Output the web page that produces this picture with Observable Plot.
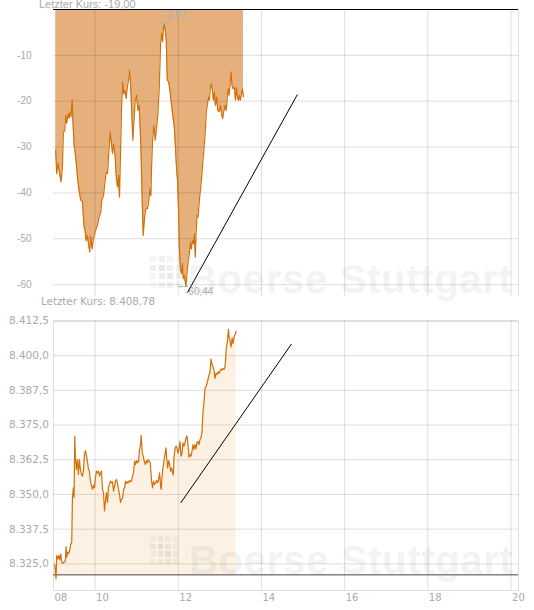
<!DOCTYPE html>
<html><head><meta charset="utf-8">
<script src="https://cdn.jsdelivr.net/npm/d3@7"></script>
<script src="https://cdn.jsdelivr.net/npm/@observablehq/plot@0.6"></script>
<style>
body{margin:0;background:#fff;width:534px;height:610px;position:relative;overflow:hidden}
#c1,#c2{position:absolute;left:0}
#c1{top:0}
#c2{top:300px}
.title{position:absolute;color:#aaa;white-space:nowrap;line-height:1}
.wm{position:absolute;font-family:"Liberation Sans",Arial,sans-serif;font-weight:bold;font-size:40px;line-height:40px;letter-spacing:0.7px;color:rgba(128,128,128,0.115);pointer-events:none;white-space:nowrap}
.logo{position:absolute;display:grid;pointer-events:none}
</style></head><body>
<div id="c1"></div>
<div id="c2"></div>
<div class="title" style="left:39px;top:-2px;font:11px 'Liberation Sans',Arial,sans-serif">Letzter Kurs: -19,00</div>
<div class="title" style="left:41px;top:296px;font:10.3px 'DejaVu Sans',Verdana,sans-serif;line-height:1">Letzter Kurs: 8.408,78</div>
<div class="wm" style="left:188px;top:259px">Boerse Stuttgart</div>
<div class="wm" style="left:189px;top:540px">Boerse Stuttgart</div>
<div class="logo" id="logo1" style="left:150px;top:256px;grid-template-columns:repeat(4,6px);gap:2.5px"></div>
<div class="logo" id="logo2" style="left:150px;top:536px;grid-template-columns:repeat(4,5.5px);gap:2px"></div>
<script>
// ---------- Top chart data ----------
const topTimes = [9.053,9.077,9.109,9.149,9.181,9.214,9.238,9.270,9.294,9.318,9.350,9.374,9.398,9.422,9.447,9.471,9.495,9.535,9.575,9.615,9.655,9.696,9.736,9.760,9.784,9.816,9.840,9.872,9.896,9.928,9.961,9.993,10.025,10.057,10.097,10.137,10.161,10.202,10.234,10.266,10.298,10.322,10.362,10.394,10.419,10.443,10.483,10.507,10.539,10.563,10.587,10.611,10.635,10.660,10.684,10.716,10.748,10.772,10.804,10.828,10.852,10.876,10.908,10.933,10.965,10.997,11.029,11.061,11.101,11.125,11.157,11.190,11.222,11.262,11.294,11.318,11.342,
11.358,11.382,11.414,11.447,11.479,11.511,11.543,11.575,11.599,11.623,11.647,11.663,11.687,11.711,11.736,11.768,11.800,11.824,11.864,11.904,11.928,11.961,11.985,12.009,12.025,12.049,12.073,12.097,12.121,12.145,12.169,12.186,12.210,12.242,12.266,12.290,12.314,12.338,12.362,12.386,12.410,12.427,12.451,12.475,12.507,12.539,12.563,12.587,12.619,12.651,12.675,12.699,12.724,12.748,12.772,12.796,12.820,12.844,12.868,12.892,12.924,12.949,12.981,13.013,13.045,13.069,13.093,13.125,13.149,13.173,13.197,13.222,13.246,13.270,13.294,13.318,13.350,13.374,13.398,13.422,13.446,13.470,13.494,13.518,13.543,13.567];
const topValues = [-30.7,-35.8,-33.5,-35.8,-37.6,-34.4,-26.7,-26.5,-23.1,-24.8,-22.7,-23.7,-22.4,-23.4,-19.6,-24.9,-29.6,-32.2,-36.5,-39.5,-41.6,-41.9,-47.5,-48.2,-50.4,-49.3,-51.1,-52.9,-49.5,-52.2,-50.0,-48.9,-47.8,-47.1,-45.3,-44.2,-41.6,-40.6,-37.9,-35.5,-35.8,-32.2,-26.7,-29.3,-31.4,-29.3,-32.0,-36.2,-38.7,-36.2,-40.9,-31.4,-22.0,-15.8,-18.4,-17.6,-19.4,-17.2,-15.4,-13.3,-15.8,-21.3,-28.5,-24.6,-19.8,-18.7,-22.0,-20.9,-29.6,-38.7,-49.3,-45.3,-43.4,-43.4,-41.6,-39.1,-40.6,
-34.4,-28.5,-25.3,-28.5,-25.6,-22.7,-16.9,-7.4,-5.2,-7.0,-3.8,-3.03,-4.5,-6.7,-15.4,-15.8,-17.6,-19.8,-22.7,-25.6,-29.3,-35.1,-37.6,-44.5,-51.8,-56.2,-57.6,-55.4,-58.7,-58.0,-59.5,-60.44,-57.6,-54.7,-53.3,-50.7,-52.2,-50.4,-51.1,-48.9,-54.0,-48.9,-44.9,-45.3,-41.6,-38.7,-36.5,-33.6,-30.3,-26.4,-22.0,-20.9,-19.1,-19.8,-16.9,-16.2,-17.6,-19.8,-18.0,-20.9,-19.1,-22.0,-22.3,-20.9,-23.0,-23.8,-22.3,-20.9,-22.0,-19.8,-17.3,-18.7,-16.2,-13.6,-16.7,-17.3,-16.9,-19.8,-17.1,-19.1,-19.8,-18.7,-19.8,-18.4,-17.3,-19.0];
const topYTicks = [-60,-50,-40,-30,-20,-10];
const topYTickLabels = ["-60","-50","-40","-30","-20","-10"];
const topDiagTimes = [12.23, 14.86];
const topDiagValues = [-61.6, -18.6];

// ---------- Bottom chart data ----------
const bottomTimes = [9.029,9.045,9.061,9.077,9.101,9.125,9.149,9.173,9.198,9.222,9.254,9.286,9.302,9.318,9.342,9.366,9.390,9.414,9.439,9.455,9.479,9.495,9.511,9.527,9.551,9.575,9.599,9.623,9.647,9.672,9.696,9.720,9.744,9.768,9.792,9.816,9.840,9.864,9.888,9.913,9.937,9.961,9.985,10.009,10.033,10.057,10.081,10.105,10.129,10.153,10.178,10.202,10.226,10.250,10.274,10.298,10.322,10.346,10.370,10.394,10.419,10.443,10.467,10.491,10.515,10.539,10.563,10.587,10.611,10.635,10.660,10.684,10.708,10.732,10.756,10.780,10.804,10.828,10.852,10.876,10.900,10.925,10.949,10.973,10.997,11.021,11.045,11.069,11.093,11.109,11.133,11.157,11.181,11.206,11.230,11.254,11.278,11.302,11.326,
11.358,11.382,11.406,11.431,11.455,11.479,11.503,11.527,11.551,11.575,11.591,11.607,11.631,11.655,11.680,11.704,11.720,11.744,11.768,11.792,11.816,11.840,11.864,11.880,11.896,11.920,11.945,11.969,11.993,12.017,12.041,12.065,12.089,12.113,12.137,12.161,12.186,12.210,12.234,12.258,12.282,12.306,12.330,12.354,12.378,12.402,12.427,12.451,12.475,12.499,12.523,12.547,12.571,12.595,12.619,12.643,12.667,12.692,12.716,12.740,12.764,12.788,12.812,12.836,12.860,12.884,12.908,12.933,12.957,12.981,13.005,13.029,13.053,13.077,13.101,13.125,13.141,13.157,13.181,13.206,13.222,13.246,13.270,13.294,13.318,13.342,13.366,13.390];
const bottomValues = [8324.7,8322.6,8319.6,8328.0,8326.8,8328.0,8326.4,8328.6,8325.6,8325.2,8325.6,8326.2,8331.2,8327.4,8329.2,8328.8,8329.8,8332.1,8332.8,8348.9,8352.4,8348.9,8371.0,8363.2,8359.0,8362.6,8357.2,8362.6,8359.0,8357.2,8356.6,8358.4,8364.4,8365.8,8364.1,8362.0,8359.0,8358.4,8354.8,8353.0,8351.8,8353.4,8352.4,8356.0,8358.4,8357.8,8358.4,8356.6,8357.8,8358.4,8351.8,8350.7,8344.1,8347.7,8350.7,8347.1,8352.7,8353.6,8354.8,8354.2,8354.6,8351.2,8353.0,8354.8,8355.4,8353.9,8351.8,8350.1,8347.1,8348.3,8348.6,8351.8,8352.4,8354.8,8353.9,8354.6,8354.2,8355.1,8354.6,8354.8,8356.6,8357.8,8362.0,8360.8,8362.2,8361.4,8362.0,8366.2,8368.0,8371.3,8365.0,8363.8,8362.0,8360.8,8362.2,8361.4,8362.6,8362.0,8361.4,
8354.8,8352.4,8354.8,8353.6,8354.2,8355.1,8354.2,8355.4,8357.8,8353.0,8351.8,8356.0,8359.6,8362.0,8364.4,8366.8,8363.2,8359.6,8362.2,8360.8,8358.4,8359.6,8357.8,8357.0,8363.2,8366.2,8367.4,8366.8,8364.9,8366.2,8369.1,8363.8,8364.6,8368.6,8367.4,8368.6,8370.4,8371.0,8368.0,8363.4,8364.4,8363.8,8365.6,8368.0,8366.2,8368.0,8366.5,8368.9,8369.1,8368.0,8369.8,8370.4,8372.7,8379.9,8383.5,8388.3,8388.9,8390.0,8391.6,8393.0,8394.2,8398.8,8396.9,8396.0,8394.8,8391.8,8393.6,8393.3,8394.2,8393.6,8394.5,8395.2,8394.8,8395.4,8395.1,8396.0,8399.6,8403.2,8405.0,8409.5,8406.8,8405.2,8403.2,8406.4,8404.4,8406.8,8407.6,8408.78];
const bottomPrevClose = 8321.03;
const bottomYTicks = [8325, 8337.5, 8350, 8362.5, 8375, 8387.5, 8400, 8412.5];
const bottomYTickLabels = ["8.325,0","8.337,5","8.350,0","8.362,5","8.375,0","8.387,5","8.400,0","8.412,5"];
const bottomDiagTimes = [12.065, 14.716];
const bottomDiagValues = [8347.1, 8404.1];

// ---------- Shared x axis ----------
const xGridTicks = [10, 12, 14, 16, 18, 20];
const xLabelTicks = [9, 10, 12, 14, 16, 18, 20];
const xTickLabels = ["08","10","12","14","16","18","20"];
const xDomain = [9, 20.18];

const lineColor = "#d2700a";
const gridStyle = {stroke: "#000", strokeOpacity: 0.125};
const fmt = v => v.toFixed(2).replace(".", ",");

// ---------- Top chart ----------
const topData = topTimes.map((t, i) => ({t, v: topValues[i]}));
const topMax = topData.reduce((a, b) => (b.v > a.v ? b : a));
const topMin = topData.reduce((a, b) => (b.v < a.v ? b : a));
const topDiag = topDiagTimes.map((t, i) => ({t, v: topDiagValues[i]}));

const chart1 = Plot.plot({
  width: 534, height: 300,
  marginTop: 9, marginBottom: 4, marginLeft: 53, marginRight: 16,
  style: {background: "transparent", fontFamily: "'Liberation Sans', Arial, sans-serif", fontSize: "10px", overflow: "visible"},
  x: {domain: xDomain, axis: null},
  y: {domain: [-62.6, 0], axis: null},
  marks: [
    Plot.areaY(topData, {x: "t", y1: 0, y2: "v", fill: "#e6b07d"}),
    Plot.ruleY(topYTicks, gridStyle),
    Plot.ruleX(xGridTicks, gridStyle),
    Plot.ruleX([xDomain[1]], gridStyle),
    Plot.lineY(topData, {x: "t", y: "v", stroke: lineColor, strokeWidth: 1.2}),
    Plot.ruleY([0], {stroke: "#000", strokeWidth: 1}),
    Plot.text(topYTicks, {y: d => d, text: d => topYTickLabels[topYTicks.indexOf(d)], frameAnchor: "left", textAnchor: "end", dx: -22, fill: "#aaa", fontSize: 10}),
    Plot.ruleY([topMax], {y: "v", x1: d => d.t - 0.13, x2: d => d.t + 0.13, stroke: "#a9b4be"}),
    Plot.text([topMax], {x: "t", y: "v", text: d => fmt(d.v), textAnchor: "start", lineAnchor: "bottom", dy: -5, dx: -1, fill: "#aab3bc", fontSize: 10}),
    Plot.ruleY([topMin], {y: "v", x1: d => d.t - 0.16, x2: d => d.t + 0.06, stroke: "#a9b4be"}),
    Plot.text([topMin], {x: "t", y: "v", text: d => fmt(d.v), textAnchor: "start", lineAnchor: "top", dy: 1, dx: -1, fill: "#aab3bc", fontSize: 10}),
    Plot.line(topDiag, {x: "t", y: "v", stroke: "#000", strokeWidth: 1})
  ]
});
document.getElementById("c1").append(chart1);

// ---------- Bottom chart ----------
const bottomData = bottomTimes.map((t, i) => ({t, v: bottomValues[i]}));
const bottomDiag = bottomDiagTimes.map((t, i) => ({t, v: bottomDiagValues[i]}));

const chart2 = Plot.plot({
  width: 534, height: 310,
  marginTop: 20.5, marginBottom: 20, marginLeft: 53, marginRight: 16,
  style: {background: "transparent", fontFamily: "'DejaVu Sans', Verdana, sans-serif", fontSize: "10px", overflow: "visible"},
  x: {domain: xDomain, axis: null},
  y: {domain: [8315.4, 8412.5], axis: null},
  marks: [
    Plot.areaY(bottomData, {x: "t", y1: bottomPrevClose, y2: "v", fill: "#fcf1e3"}),
    Plot.ruleY(bottomYTicks, gridStyle),
    Plot.ruleX(xGridTicks, gridStyle),
    Plot.frame(gridStyle),
    Plot.ruleY([bottomPrevClose], {stroke: "#444", strokeWidth: 1}),
    Plot.lineY(bottomData, {x: "t", y: "v", stroke: lineColor, strokeWidth: 1.2}),
    Plot.text(bottomYTicks, {y: d => d, text: d => bottomYTickLabels[bottomYTicks.indexOf(d)], frameAnchor: "left", textAnchor: "end", dx: -4.5, fill: "#aaa", fontSize: 10.5}),
    Plot.text(xLabelTicks, {x: d => d, text: d => xTickLabels[xLabelTicks.indexOf(d)], frameAnchor: "bottom", textAnchor: "start", lineAnchor: "top", dy: 3.5, dx: 1, fill: "#aaa", fontSize: 10}),
    Plot.line(bottomDiag, {x: "t", y: "v", stroke: "#000", strokeWidth: 1})
  ]
});
document.getElementById("c2").append(chart2);

// ---------- watermark logo dots ----------
const logoShades = [0.08,0.12,0.08,0.06, 0.12,0.17,0.13,0.08, 0.08,0.13,0.17,0.10, 0.06,0.10,0.12,0.08];
["logo1","logo2"].forEach((id, k) => {
  const el = document.getElementById(id);
  logoShades.forEach(a => {
    const d = document.createElement("div");
    const s = k === 0 ? 6 : 5.5;
    d.style.width = s + "px"; d.style.height = s + "px";
    d.style.background = `rgba(128,128,128,${a})`;
    el.append(d);
  });
});
</script>
</body></html>
